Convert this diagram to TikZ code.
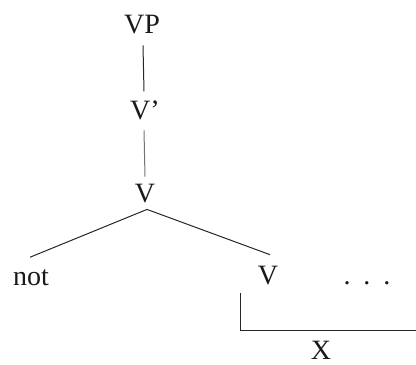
\documentclass[tikz,border=0pt]{standalone}
\usepackage{fontspec}
\setmainfont{Liberation Serif}
\begin{document}
\begin{tikzpicture}[x=1pt,y=1pt,
  lbl/.style={inner sep=0pt, outer sep=0pt, anchor=base, font=\fontsize{28}{30}\selectfont, text=black!90},
  branch/.style={line width=1pt, draw=black!85}]
\useasboundingbox (0,0) rectangle (416,-365);
\node[lbl] (vp) at (142,-33) {VP};
\node[lbl] (vbar) at (145,-119) {V'};
\node[lbl] (v) at (145,-202) {V};
\node[lbl] (not) at (31,-285) {not};
\node[lbl] (v2) at (268,-284) {V};
\node[lbl] (dots) at (367,-284) {.\kern13pt.\kern13pt.};
\node[lbl] (x) at (321,-359) {X};
\draw[branch] ([xshift=1pt,yshift=-12pt]vp.south) -- ([xshift=-1pt,yshift=9pt]vbar.north);
\draw[branch, draw=black!55] ([xshift=-1pt,yshift=-11pt]vbar.south) -- ([yshift=7pt]v.north);
\coordinate (apex) at ([xshift=2pt,yshift=-7pt]v.south);
\draw[branch] (apex) -- ([xshift=-1pt,yshift=12pt]not.north);
\draw[branch] (apex) -- ([xshift=2pt,yshift=11pt]v2.north);
\coordinate (bt) at (240,-293);
\coordinate (bc) at (240,-330);
\coordinate (br) at (416,-330);
\draw[branch] (bt) -- (bc) -- (br);
\end{tikzpicture}
\end{document}
